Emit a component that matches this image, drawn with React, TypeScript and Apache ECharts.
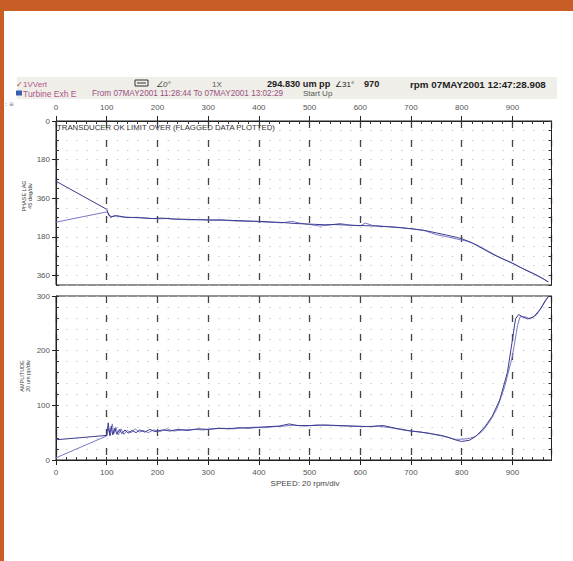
import React, { useEffect, useRef } from "react";
import * as echarts from "echarts";

// ---- data ----
const phaseSpeedA = [0, 100, 104, 110, 120, 135, 150, 170, 190, 210, 230, 250, 275, 300, 325, 350, 375, 400, 425, 450, 470, 490, 510, 530, 550, 570, 590, 610, 630, 660, 690, 710, 730, 750, 770, 790, 800, 820, 840, 860, 880, 900, 920, 940, 960, 970];
const phaseA = [281, 412, 440, 446, 442, 448, 450, 452, 455, 453, 457, 458, 460, 462, 461, 464, 466, 468, 471, 474, 478, 480, 482, 484, 483, 485, 487, 488, 490, 494, 500, 505, 512, 522, 532, 543, 549, 568, 594, 620, 643, 663, 688, 710, 735, 750];

const phaseSpeedB = [0, 100, 103, 108, 115, 125, 140, 160, 180, 200, 220, 240, 265, 290, 310, 335, 360, 390, 420, 445, 465, 480, 500, 520, 540, 560, 580, 600, 610, 625, 650, 680, 700, 725, 750, 775, 795, 810, 830, 850, 870, 890, 910, 930, 950, 965, 972];
const phaseB = [472, 424, 428, 452, 440, 446, 451, 449, 454, 456, 455, 459, 461, 460, 463, 464, 467, 469, 472, 475, 468, 476, 483, 490, 485, 478, 486, 489, 476, 488, 492, 497, 503, 510, 530, 542, 553, 560, 578, 604, 630, 652, 676, 700, 722, 742, 752];

const ampSpeedA = [0, 100, 103, 106, 109, 112, 116, 120, 125, 130, 136, 142, 150, 158, 165, 175, 185, 195, 210, 225, 240, 260, 280, 300, 320, 340, 360, 380, 400, 420, 440, 460, 475, 500, 530, 560, 590, 620, 645, 670, 700, 720, 740, 760, 775, 790, 800, 815, 830, 845, 860, 875, 890, 900, 906, 912, 920, 930, 942, 955, 965, 972];
const ampA = [37, 45, 68, 45, 62, 46, 58, 47, 56, 48, 55, 49, 54, 50, 55, 51, 56, 52, 55, 53, 56, 54, 57, 56, 58, 57, 59, 58, 60, 61, 62, 66, 63, 63, 64, 63, 62, 61, 63, 58, 53, 51, 48, 45, 41, 36, 34, 36, 45, 60, 80, 110, 160, 220, 258, 266, 262, 258, 262, 276, 292, 300];

const ampSpeedB = [0, 100, 104, 107, 111, 114, 118, 123, 128, 134, 140, 148, 156, 164, 172, 182, 192, 205, 218, 232, 250, 270, 290, 310, 330, 350, 370, 390, 410, 430, 450, 470, 490, 515, 545, 575, 605, 635, 660, 690, 710, 735, 755, 770, 785, 800, 812, 825, 840, 855, 870, 885, 900, 910, 915, 925, 935, 948, 960, 970];
const ampB = [4, 44, 58, 44, 66, 48, 60, 46, 57, 47, 54, 50, 57, 51, 54, 50, 55, 52, 57, 53, 55, 56, 55, 57, 58, 57, 59, 60, 59, 61, 62, 64, 62, 64, 63, 62, 61, 62, 59, 54, 52, 49, 45, 42, 38, 38, 39, 42, 52, 70, 95, 135, 190, 246, 262, 262, 258, 266, 283, 298];

const speedLabels = [0, 100, 200, 300, 400, 500, 600, 700, 800, 900];

const pairs = (xs: number[], ys: number[]) => xs.map((x, i) => [x, ys[i]]);

const FONT = "'Liberation Sans', Arial, sans-serif";
const DARK = "#3c3c8e";
const LIGHT = "#7878c6";

export default function App() {
  const ref = useRef<HTMLDivElement>(null);

  useEffect(() => {
    if (!ref.current) return;
    const chart = echarts.init(ref.current, undefined, { renderer: "svg" });

    const gridLeft = 56;
    const gridWidth = 495.5;
    const xMax = 977;

    const majorX = (gridIndex: number, position: "top" | "bottom", margin: number) => ({
      type: "value",
      gridIndex,
      position,
      min: 0,
      max: xMax,
      interval: 100,
      axisLine: { show: true, lineStyle: { color: "#222", width: 1 } },
      axisTick: { show: true, inside: false, length: 5, lineStyle: { color: "#222" } },
      axisLabel: {
        show: true,
        margin,
        fontSize: 8,
        color: "#555",
        fontFamily: FONT,
        showMaxLabel: false,
        formatter: (v: number) => (speedLabels.includes(v) ? String(v) : ""),
      },
      splitLine: { show: true, lineStyle: { color: "#444", width: 1.3, type: [7, 12] } },
    });
    const minorX = (gridIndex: number, position: "top" | "bottom") => ({
      type: "value",
      gridIndex,
      position,
      min: 0,
      max: xMax,
      interval: 20,
      axisLine: { show: false },
      axisTick: { show: true, inside: true, length: 3, lineStyle: { color: "#333" } },
      axisLabel: { show: false },
      splitLine: { show: false },
    });

    const dotLine = { show: true, lineStyle: { color: "#c2c2c2", width: 1.2, type: [1.3, 8.85] } };

    const txt = (x: number, y: number, text: string, extra: any = {}) => ({
      type: "text",
      x,
      y,
      style: { text, fontSize: 8, fill: "#444", fontFamily: FONT, verticalAlign: "middle", ...extra },
    });

    const option: any = {
      animation: false,
      backgroundColor: "#ffffff",
      grid: [
        { left: gridLeft, top: 121, width: gridWidth, height: 164, show: true, borderColor: "#222", borderWidth: 1 },
        { left: gridLeft, top: 296, width: gridWidth, height: 164, show: true, borderColor: "#222", borderWidth: 1 },
      ],
      xAxis: [majorX(0, "top", 10), minorX(0, "top"), majorX(1, "bottom", 8), minorX(1, "bottom")],
      yAxis: [
        {
          type: "value", gridIndex: 0, position: "left", inverse: true, min: 0, max: 765, interval: 180,
          axisLine: { show: true, lineStyle: { color: "#222" } },
          axisTick: { show: true, inside: false, length: 4, lineStyle: { color: "#222" } },
          axisLabel: {
            margin: 6, fontSize: 8, color: "#555", fontFamily: FONT, showMaxLabel: false,
            formatter: (v: number) => (v === 0 ? "0" : String(((v - 1) % 360) + 1)),
          },
          splitLine: { show: false },
        },
        {
          type: "value", gridIndex: 0, position: "left", inverse: true, min: 0, max: 765, interval: 45,
          axisLine: { show: false },
          axisTick: { show: true, inside: true, length: 3, lineStyle: { color: "#333" } },
          axisLabel: { show: false },
          splitLine: dotLine,
        },
        {
          type: "value", gridIndex: 0, position: "right", inverse: true, min: 0, max: 765, interval: 45,
          axisLine: { show: true, lineStyle: { color: "#222" } },
          axisTick: { show: true, inside: true, length: 3, lineStyle: { color: "#333" } },
          axisLabel: { show: false },
          splitLine: { show: false },
        },
        {
          type: "value", gridIndex: 1, position: "left", min: 0, max: 300, interval: 100,
          axisLine: { show: true, lineStyle: { color: "#222" } },
          axisTick: { show: true, inside: false, length: 4, lineStyle: { color: "#222" } },
          axisLabel: { margin: 6, fontSize: 8, color: "#555", fontFamily: FONT },
          splitLine: { show: false },
        },
        {
          type: "value", gridIndex: 1, position: "left", min: 0, max: 300, interval: 20,
          axisLine: { show: false },
          axisTick: { show: true, inside: true, length: 3, lineStyle: { color: "#333" } },
          axisLabel: { show: false },
          splitLine: dotLine,
        },
        {
          type: "value", gridIndex: 1, position: "right", min: 0, max: 300, interval: 20,
          axisLine: { show: true, lineStyle: { color: "#222" } },
          axisTick: { show: true, inside: true, length: 3, lineStyle: { color: "#333" } },
          axisLabel: { show: false },
          splitLine: { show: false },
        },
      ],
      series: [
        { type: "line", xAxisIndex: 0, yAxisIndex: 0, data: pairs(phaseSpeedA, phaseA), showSymbol: false, lineStyle: { color: DARK, width: 1 }, z: 5 },
        { type: "line", xAxisIndex: 0, yAxisIndex: 0, data: pairs(phaseSpeedB, phaseB), showSymbol: false, lineStyle: { color: LIGHT, width: 1 }, z: 4 },
        { type: "line", xAxisIndex: 2, yAxisIndex: 3, data: pairs(ampSpeedA, ampA), showSymbol: false, lineStyle: { color: DARK, width: 1 }, z: 5 },
        { type: "line", xAxisIndex: 2, yAxisIndex: 3, data: pairs(ampSpeedB, ampB), showSymbol: false, lineStyle: { color: LIGHT, width: 1 }, z: 4 },
      ],
      graphic: [
        { type: "rect", shape: { x: 0, y: 0, width: 573, height: 11 }, style: { fill: "#c85d26" }, silent: true },
        { type: "rect", shape: { x: 0, y: 0, width: 4, height: 561 }, style: { fill: "#c85d26" }, silent: true },
        { type: "rect", shape: { x: 17, y: 77, width: 540, height: 22 }, style: { fill: "#efeee8" }, silent: true },
        txt(16, 84, "✓", { fill: "#c0403a", fontFamily: "DejaVu Sans" }),
        txt(23, 84, "1VVert", { fill: "#b0588c" }),
        { type: "rect", shape: { x: 135, y: 80, width: 13, height: 6 }, style: { fill: "none", stroke: "#333", lineWidth: 1 } },
        { type: "line", shape: { x1: 137, y1: 83, x2: 146, y2: 83 }, style: { stroke: "#333", lineWidth: 1 } },
        txt(156, 84, "∠0°", { fontStyle: "italic", fill: "#444" }),
        txt(212, 84, "1X", { fill: "#555" }),
        txt(267, 84, "294.830 um pp", { fontSize: 9.2, fontWeight: "bold", fill: "#222" }),
        txt(335, 84, "∠31°", { fontSize: 8, fill: "#222" }),
        txt(364, 84, "970", { fontSize: 9.2, fontWeight: "bold", fill: "#222" }),
        txt(410, 84, "rpm 07MAY2001 12:47:28.908", { fontSize: 9.8, fontWeight: "bold", fill: "#222" }),
        { type: "rect", shape: { x: 16, y: 90.5, width: 6, height: 5 }, style: { fill: "#3a5fb0" } },
        txt(23, 93.5, "Turbine Exh E", { fontSize: 8.5, fill: "#b0588c" }),
        txt(92, 93.5, "From 07MAY2001 11:28:44 To 07MAY2001 13:02:29", { fontSize: 8.2, fill: "#9a5080" }),
        txt(303, 93.5, "Start Up", { fill: "#555" }),
        txt(5, 103, ": ≡", { fontSize: 6, fill: "#777", fontFamily: "DejaVu Sans" }),
        { ...txt(57, 127.5, "TRANSDUCER OK LIMIT OVER (FLAGGED DATA PLOTTED)", { fontSize: 7.8, fill: "#333" }), z: 10 },
        txt(305, 483.5, "SPEED: 20 rpm/div", { align: "center" }),
        { type: "text", x: 27, y: 196, rotation: Math.PI / 2, style: { text: "PHASE LAG\n45 deg/div", fontSize: 5.5, lineHeight: 6.5, fill: "#444", fontFamily: FONT, align: "center", verticalAlign: "middle" } },
        { type: "text", x: 25, y: 376, rotation: Math.PI / 2, style: { text: "AMPLITUDE\n20 um pp/div", fontSize: 5.5, lineHeight: 6.5, fill: "#444", fontFamily: FONT, align: "center", verticalAlign: "middle" } },
      ],
    };

    chart.setOption(option);
    return () => chart.dispose();
  }, []);

  return (
    <div
      ref={ref}
      style={{ position: "absolute", left: 0, top: 0, width: 573, height: 561, background: "#fff" }}
    />
  );
}
